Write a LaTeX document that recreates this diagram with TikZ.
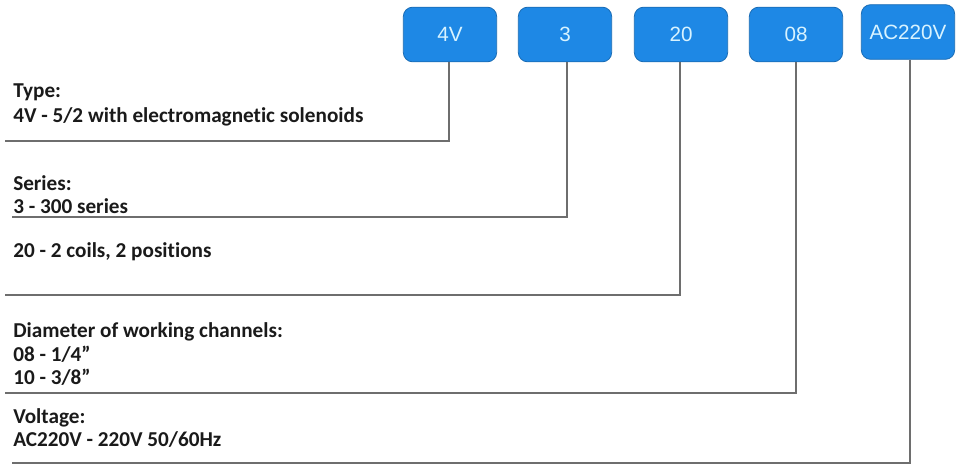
\documentclass[tikz,border=0pt]{standalone}
\usepackage{fontspec}
\setmainfont{Carlito}[Ligatures={TeX,NoCommon}]
\newfontfamily\boxfont{Liberation Sans}
\definecolor{boxblue}{HTML}{1E88E5}
\definecolor{boxedge}{HTML}{1A6CB5}
\definecolor{boxtext}{HTML}{D8F3FF}
\definecolor{linegray}{HTML}{6E6E6E}
\definecolor{txt}{HTML}{1A1A1A}
\tikzset{
  codebox/.style={draw=boxedge, fill=boxblue, rounded corners=7pt, line width=0.6pt,
    minimum width=70pt, minimum height=41pt, inner sep=0pt, text=boxtext,
    font=\boxfont\fontsize{15.5}{18}\selectfont},
  lbl/.style={anchor=base west, inner sep=0pt, text=txt,
    font=\bfseries\fontsize{15.9}{18}\selectfont},
  conn/.style={draw=linegray, line width=1.1pt}
}
\begin{document}
\begin{tikzpicture}[x=0.75pt,y=-0.75pt]
\useasboundingbox (0,0) rectangle (960,464);
\fill[white] (0,0) rectangle (960,464);
% code boxes
\node[codebox] (b4v) at (450,34.5) {4V};
\node[codebox] (b3)  at (565,34.5) {3};
\node[codebox] (b20) at (681,34.5) {20};
\node[codebox] (b08) at (796,34.5) {08};
\node[codebox] (bac) at (908,32) {AC220V};
% corners and free ends
\coordinate (c1) at (449,141); \coordinate (e1) at (5,141);
\coordinate (c2) at (567,217); \coordinate (e2) at (12,217);
\coordinate (c3) at (680,295); \coordinate (e3) at (5,295);
\coordinate (c4) at (796,393); \coordinate (e4) at (5,393);
\coordinate (c5) at (910,463); \coordinate (e5) at (12,463);
\draw[conn] (b4v.south -| c1) -- (c1) -- (e1);
\draw[conn] (b3.south -| c2) -- (c2) -- (e2);
\draw[conn] (b20.south -| c3) -- (c3) -- (e3);
\draw[conn] (b08.south -| c4) -- (c4) -- (e4);
\draw[conn] (bac.south -| c5) -- (c5) -- (e5);
% labels
\node[lbl] (t1a) at (13,97) {Type:};
\node[lbl] (t1b) at (13,122) {4V - 5/2 with electromagnetic solenoids};
\node[lbl] (t2a) at (13,190) {Series:};
\node[lbl] (t2b) at (13,213) {3 - 300 series};
\node[lbl] (t3a) at (13,257) {20 - 2 coils, 2 positions};
\node[lbl] (t4a) at (13,337) {Diameter of working channels:};
\node[lbl] (t4b) at (13,361) {08 - 1/4\char"22};
\node[lbl] (t4c) at (13,384) {10 - 3/8\char"22};
\node[lbl] (t5a) at (13,423) {Voltage:};
\node[lbl] (t5b) at (13,446) {AC220V - 220V 50/60Hz};
\end{tikzpicture}
\end{document}
